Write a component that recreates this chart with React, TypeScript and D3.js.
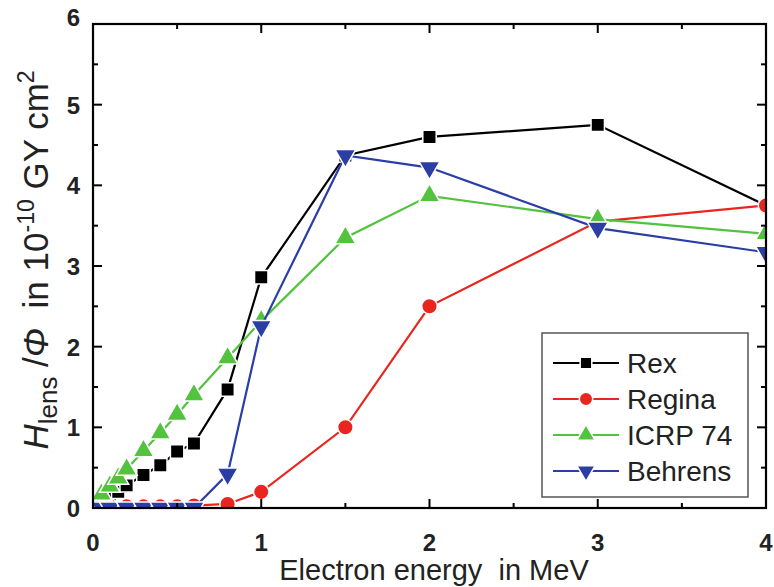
import React from 'react';
import * as d3 from 'd3';

const rexX = [0.02, 0.05, 0.1, 0.15, 0.2, 0.3, 0.4, 0.5, 0.6, 0.8, 1, 1.5, 2, 3, 4];
const rexY = [0.07, 0.1, 0.14, 0.2, 0.28, 0.41, 0.53, 0.7, 0.8, 1.47, 2.86, 4.37, 4.6, 4.75, 3.75];

const reginaX = [0.02, 0.1, 0.2, 0.3, 0.4, 0.5, 0.6, 0.8, 1, 1.5, 2, 3, 4];
const reginaY = [0.02, 0.02, 0.02, 0.02, 0.02, 0.02, 0.03, 0.05, 0.2, 1.0, 2.5, 3.55, 3.75];

const icrpX = [0.02, 0.05, 0.1, 0.15, 0.2, 0.3, 0.4, 0.5, 0.6, 0.8, 1, 1.5, 2, 3, 4];
const icrpY = [0.08, 0.17, 0.27, 0.37, 0.48, 0.71, 0.93, 1.16, 1.4, 1.86, 2.32, 3.35, 3.87, 3.58, 3.4];

const behrensX = [0.05, 0.1, 0.2, 0.3, 0.4, 0.5, 0.6, 0.8, 1, 1.5, 2, 3, 4];
const behrensY = [0, 0, 0, 0, 0, 0, 0, 0.42, 2.25, 4.37, 4.22, 3.47, 3.17];

const seriesNames = ['Rex', 'Regina', 'ICRP 74', 'Behrens'];
const xTicks = [0, 1, 2, 3, 4];
const yTicks = [0, 1, 2, 3, 4, 5, 6];

const W = 774;
const H = 587;
const left = 93;
const right = 766;
const top = 24;
const bottom = 508;

const font = "'Liberation Sans', Arial, Helvetica, sans-serif";

export default function App() {
  const x = d3.scaleLinear().domain([0, 4]).range([left, right]);
  const y = d3.scaleLinear().domain([0, 6]).range([bottom, top]);

  const series = [
    { name: seriesNames[0], xs: rexX, ys: rexY, color: '#000000', shape: d3.symbolSquare, size: 180, rot: 0 },
    { name: seriesNames[1], xs: reginaX, ys: reginaY, color: '#e8261f', shape: d3.symbolCircle, size: 190, rot: 0 },
    { name: seriesNames[2], xs: icrpX, ys: icrpY, color: '#52c23f', shape: d3.symbolTriangle, size: 190, rot: 0 },
    { name: seriesNames[3], xs: behrensX, ys: behrensY, color: '#2b3ea6', shape: d3.symbolTriangle, size: 190, rot: 180 },
  ];

  const line = d3
    .line<[number, number]>()
    .x(d => x(d[0]))
    .y(d => y(d[1]));

  const minorX = d3.range(0, 4.01, 0.5);
  const minorY = d3.range(0, 6.01, 0.5);

  return (
    <svg
      width={W}
      height={H}
      style={{ position: 'absolute', left: 0, top: 0, background: '#fff' }}
      fontFamily={font}
    >
      <defs>
        <clipPath id="plot">
          <rect x={left} y={top} width={right - left} height={bottom - top} />
        </clipPath>
      </defs>

      <g clipPath="url(#plot)">
        {series.map(s => {
          const pts = s.xs.map((v, i) => [v, s.ys[i]] as [number, number]);
          return (
            <g key={s.name}>
              <path d={line(pts) || ''} fill="none" stroke={s.color} strokeWidth={2.2} />
              {pts.map((p, i) => (
                <path
                  key={i}
                  d={d3.symbol().type(s.shape).size(s.size)() || ''}
                  transform={`translate(${x(p[0])},${y(p[1])}) rotate(${s.rot})`}
                  fill={s.color}
                  stroke="#fff"
                  strokeWidth={1.5}
                />
              ))}
            </g>
          );
        })}
      </g>

      {/* ticks, mirrored on all four sides */}
      <g stroke="#000" strokeWidth={2}>
        {minorX.map(v => {
          const len = Number.isInteger(v) ? 9 : 5;
          return (
            <g key={'x' + v}>
              <line x1={x(v)} x2={x(v)} y1={bottom} y2={bottom - len} />
              <line x1={x(v)} x2={x(v)} y1={top} y2={top + len} />
            </g>
          );
        })}
        {minorY.map(v => {
          const len = Number.isInteger(v) ? 9 : 5;
          return (
            <g key={'y' + v}>
              <line x1={left} x2={left + len} y1={y(v)} y2={y(v)} />
              <line x1={right} x2={right - len} y1={y(v)} y2={y(v)} />
            </g>
          );
        })}
      </g>

      <rect
        x={left}
        y={top}
        width={right - left}
        height={bottom - top}
        fill="none"
        stroke="#000"
        strokeWidth={2.2}
      />

      {xTicks.map(v => (
        <text
          key={'xl' + v}
          x={x(v)}
          y={551}
          textAnchor="middle"
          fontSize={24}
          fontWeight="bold"
          fill="#222"
        >
          {v}
        </text>
      ))}
      {yTicks.map(v => (
        <text
          key={'yl' + v}
          x={80}
          y={v === 6 ? 26 : y(v) + 9}
          textAnchor="end"
          fontSize={24}
          fontWeight="bold"
          fill="#222"
        >
          {v}
        </text>
      ))}

      <text x={434} y={580} textAnchor="middle" fontSize={29} fill="#222">
        Electron energy{'\u00a0\u00a0'}in MeV
      </text>

      <text
        transform={`translate(48,260) rotate(-90)`}
        textAnchor="middle"
        fontSize={35}
        fill="#222"
      >
        <tspan fontStyle="italic">H</tspan>
        <tspan fontSize={26} dy={9}>lens</tspan>
        <tspan dy={-9}>{'\u00a0/'}</tspan>
        <tspan fontStyle="italic">Φ</tspan>
        <tspan>{'\u00a0\u00a0in 10'}</tspan>
        <tspan fontSize={23} dy={-14}>-10</tspan>
        <tspan dy={14}>{'\u00a0GY cm'}</tspan>
        <tspan fontSize={23} dy={-14}>2</tspan>
      </text>

      {/* legend */}
      <g>
        <rect x={542} y={333} width={206} height={164} fill="#fff" stroke="#555" strokeWidth={1.5} />
        {series.map((s, i) => {
          const ly = 363 + i * 36;
          return (
            <g key={'lg' + s.name}>
              <line x1={553} x2={619} y1={ly} y2={ly} stroke={s.color} strokeWidth={2} />
              <path
                d={d3.symbol().type(s.shape).size(s.size * 0.75)() || ''}
                transform={`translate(586,${ly}) rotate(${s.rot})`}
                fill={s.color}
                stroke="#fff"
                strokeWidth={1.5}
              />
              <text x={627} y={ly + 10} fontSize={28} fill="#222">
                {s.name}
              </text>
            </g>
          );
        })}
      </g>
    </svg>
  );
}
